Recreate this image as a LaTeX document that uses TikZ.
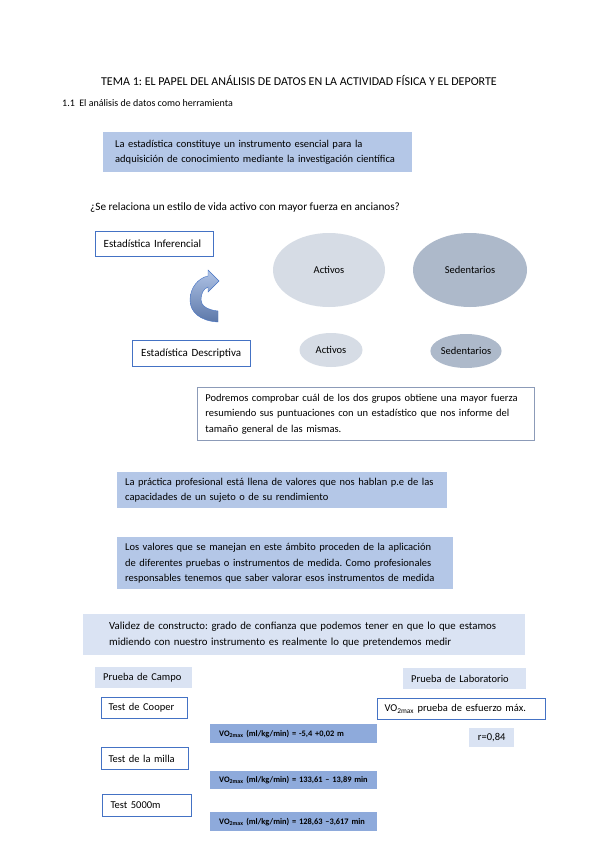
\documentclass[tikz,border=0pt]{standalone}
\usepackage{fontspec}
\setmainfont{Carlito}
\frenchspacing
\definecolor{boxblue}{HTML}{B4C7E7}
\definecolor{paleblue}{HTML}{DAE3F3}
\definecolor{voblue}{HTML}{8EAADB}
\definecolor{edgeblue}{HTML}{4472C4}
\definecolor{greyedge}{HTML}{8C9BB8}
\definecolor{actfill}{HTML}{D6DCE5}
\definecolor{sedfill}{HTML}{ADB9CA}
\usetikzlibrary{shapes.geometric}
\tikzset{
  txt/.style={font=\fontsize{10.5}{15.5}\selectfont, align=left, anchor=north west, inner ysep=0pt},
  fillbox/.style={txt, fill=boxblue},
  palebox/.style={txt, fill=paleblue},
  linebox/.style={txt, draw=edgeblue, line width=1.3pt, fill=white},
  thinbox/.style={txt, draw=greyedge, line width=0.8pt, fill=white},
  vobox/.style={fill=voblue, font=\fontsize{8.4}{10}\selectfont\bfseries, anchor=north west, align=left, inner ysep=0pt},
  blob/.style={ellipse, inner sep=0pt, font=\fontsize{10.5}{13}\selectfont}
}
\begin{document}
\begin{tikzpicture}[x=1pt,y=-1pt]
\useasboundingbox[fill=white] (0,0) rectangle (599,848);

% encabezado
\node[font=\fontsize{12}{14}\selectfont] (tema) at (299,81) {TEMA 1: EL PAPEL DEL ANÁLISIS DE DATOS EN LA ACTIVIDAD FÍSICA Y EL DEPORTE};
\node[anchor=west, inner sep=0pt, font=\fontsize{10}{12}\selectfont] (seccion) at (62,103) {1.1\hspace{0.45em}El análisis de datos como herramienta};

\node[fillbox, minimum width=309pt, minimum height=40pt, text width=285pt, inner xsep=12pt] (instrumento) at (103,132)
  {La estadística constituye un instrumento esencial para la\\adquisición de conocimiento mediante la investigación científica};
\node[anchor=west, inner sep=0pt, font=\fontsize{11.2}{13}\selectfont] (pregunta) at (90,208) {¿Se relaciona un estilo de vida activo con mayor fuerza en ancianos?};

% inferencial / descriptiva
\node[linebox, font=\fontsize{11}{13}\selectfont, minimum width=118pt, minimum height=25pt, text width=102pt, inner xsep=8pt] (inferencial) at (95,231) {Estadística Inferencial};
\node[linebox, font=\fontsize{11}{13}\selectfont, minimum width=118pt, minimum height=26pt, text width=101pt, inner xsep=8.5pt] (descriptiva) at (132,340) {Estadística Descriptiva};
\shade[top color=voblue!70, bottom color=edgeblue!75!black!80, draw=edgeblue, line width=0.4pt]
  (218,322) .. controls (200,321) and (190,312) .. (190,300)
  .. controls (190,288) and (198,278) .. (208,276) -- (208,270) -- (219,281) -- (208,292) -- (208,287)
  .. controls (203,289) and (201,294) .. (201,300)
  .. controls (201,306) and (208,310) .. (218,311) -- cycle;

% grupos
\node[blob, fill=actfill, minimum width=112pt, minimum height=74pt] (activos) at (329,270) {Activos};
\node[blob, fill=sedfill, minimum width=114pt, minimum height=74pt] (sedentarios) at (470,270) {Sedentarios};
\node[blob, fill=actfill, minimum width=63pt, minimum height=34pt] (activosb) at (331,350) {Activos};
\node[blob, fill=sedfill, minimum width=63pt, minimum height=34pt] (sedentariosb) at (466,351) {Sedentarios};

\node[thinbox, minimum width=337pt, minimum height=53pt, text width=321pt, inner xsep=8pt] (podremos) at (197,387)
  {Podremos comprobar cuál de los dos grupos obtiene una mayor fuerza\\resumiendo sus puntuaciones con un estadístico que nos informe del\\tamaño general de las mismas.};

\node[fillbox, minimum width=330pt, minimum height=36pt, text width=314pt, inner xsep=8pt] (practica) at (117,472)
  {La práctica profesional está llena de valores que nos hablan p.e de las\\capacidades de un sujeto o de su rendimiento};
\node[fillbox, minimum width=336pt, minimum height=52pt, text width=320pt, inner xsep=8pt] (valores) at (117,537)
  {Los valores que se manejan en este ámbito proceden de la aplicación\\de diferentes pruebas o instrumentos de medida. Como profesionales\\responsables tenemos que saber valorar esos instrumentos de medida};
\node[palebox, font=\fontsize{10.8}{15.5}\selectfont, minimum width=442pt, minimum height=41pt, text width=390pt, inner xsep=26pt] (validez) at (83,614)
  {Validez de constructo: grado de confianza que podemos tener en que lo que estamos\\midiendo con nuestro instrumento es realmente lo que pretendemos medir};

% pruebas
\node[palebox, minimum width=97pt, minimum height=21pt, text width=81pt, inner xsep=8pt] (campo) at (95,667) {Prueba de Campo};
\node[palebox, minimum width=123pt, minimum height=21pt, text width=107pt, inner xsep=8pt] (laboratorio) at (403,668) {Prueba de Laboratorio};
\node[linebox, line width=1pt, minimum width=86pt, minimum height=21pt, text width=72pt, inner xsep=7pt] (cooper) at (101,697) {Test de Cooper};
\node[linebox, line width=1pt, minimum width=87pt, minimum height=22pt, text width=73pt, inner xsep=7pt] (milla) at (101,747) {Test de la milla};
\node[linebox, line width=1pt, minimum width=87pt, minimum height=22pt, text width=73pt, inner xsep=8pt] (cincomil) at (102,794) {Test 5000m};
\node[linebox, line width=1pt, minimum width=168pt, minimum height=21pt, text width=154pt, inner xsep=7pt] (esfuerzo) at (377,698) {VO\textsubscript{2max} prueba de esfuerzo máx.};
\node[palebox, minimum width=45pt, minimum height=19pt, text width=45pt, inner xsep=0pt, align=center] (correlacion) at (469,728) {r=0,84};

\node[vobox, minimum width=167pt, minimum height=19pt, text width=149pt, inner xsep=9pt] (formulaa) at (210,724) {VO\textsubscript{2max} (ml/kg/min) = -5,4 +0,02 m};
\node[vobox, minimum width=167pt, minimum height=18pt, text width=149pt, inner xsep=9pt] (formulab) at (210,771) {VO\textsubscript{2max} (ml/kg/min) = 133,61 -- 13,89 min};
\node[vobox, minimum width=167pt, minimum height=19pt, text width=149pt, inner xsep=9pt] (formulac) at (210,812) {VO\textsubscript{2max} (ml/kg/min) = 128,63 --3,617 min};
\end{tikzpicture}
\end{document}
